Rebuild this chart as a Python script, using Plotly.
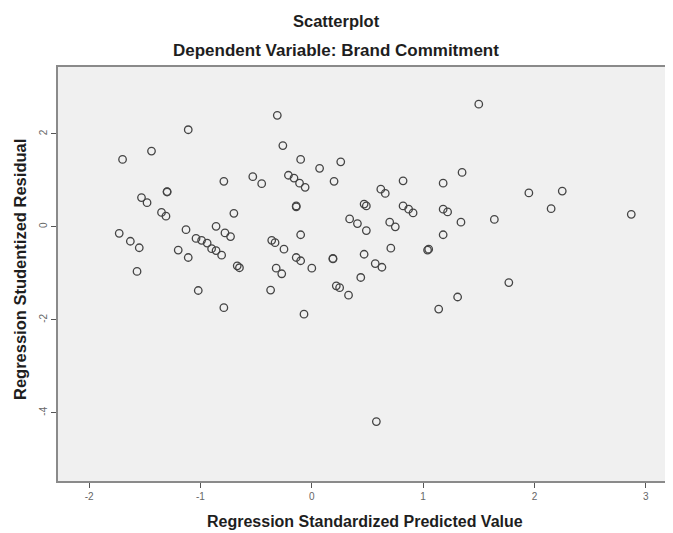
import plotly.graph_objects as go

# Regression Standardized Predicted Value
pred = [-1.11, -1.44, -1.70, -0.79, -0.53, -0.45, -1.30, -1.30, -1.53, -1.48,
        -0.70, -1.35, -1.31, -0.86, -0.78, -0.73, -1.73, -1.63, -1.55, -1.13,
        -1.04, -0.99, -0.94, -0.90, -0.86, -0.81, -1.20, -1.11, -0.67, -0.65,
        -1.57, -1.02, -0.79, -0.31, -0.26, -0.10, 0.07, 0.26, -0.21, -0.16,
        -0.11, -0.06, 0.20, -0.14, -0.14, 0.62, 0.66, 0.82, 1.18, 1.35,
        0.47, 0.49, 0.82, 0.87, 0.91, 1.18, 1.22, 1.34, 0.34, 0.41,
        0.49, 0.70, 0.75, -0.10, -0.36, -0.33, -0.25, 1.18, 0.71, 1.05,
        1.04, 0.19, 0.19, 0.47, -0.14, -0.10, 0.00, 0.57, 0.63, -0.32,
        -0.27, -0.37, -0.07, 0.22, 0.25, 0.33, 0.44, 0.58, 1.14, 1.31,
        1.50, 1.95, 2.25, 2.15, 1.64, 2.87, 1.77]

# Regression Studentized Residual
resid = [2.09, 1.63, 1.45, 0.98, 1.08, 0.93, 0.76, 0.75, 0.63, 0.52,
         0.29, 0.31, 0.23, 0.01, -0.13, -0.21, -0.14, -0.31, -0.45, -0.06,
         -0.25, -0.29, -0.35, -0.47, -0.51, -0.61, -0.50, -0.66, -0.84, -0.88,
         -0.96, -1.37, -1.74, 2.40, 1.75, 1.45, 1.26, 1.40, 1.11, 1.05,
         0.94, 0.85, 0.98, 0.43, 0.45, 0.81, 0.72, 0.99, 0.94, 1.17,
         0.49, 0.45, 0.45, 0.38, 0.30, 0.38, 0.32, 0.10, 0.17, 0.07,
         -0.08, 0.10, 0.00, -0.17, -0.29, -0.34, -0.48, -0.17, -0.46, -0.48,
         -0.50, -0.68, -0.69, -0.59, -0.66, -0.73, -0.89, -0.79, -0.87, -0.89,
         -1.01, -1.36, -1.88, -1.27, -1.31, -1.47, -1.09, -4.19, -1.77, -1.51,
         2.64, 0.73, 0.77, 0.39, 0.16, 0.27, -1.20]

x_ticks = [-2, -1, 0, 1, 2, 3]
y_ticks = [2, 0, -2, -4]

title_text = "Scatterplot"
subtitle_text = "Dependent Variable: Brand Commitment"
x_title = "Regression Standardized Predicted Value"
y_title = "Regression Studentized Residual"

FONT = "Liberation Sans, Arial, sans-serif"
OFF = 8  # the page body has an 8px margin; compensate so page pixels match
PAGE_W, PAGE_H = 673, 533
W, H = PAGE_W - OFF, PAGE_H - OFF
# plot area in page pixels: x 58..668, y 67..481
L, T = 58 - OFF, 67 - OFF
R = W - (668 - OFF)
B = H - (481 - OFF)
PW, PH = W - L - R, H - T - B


def px_x(page_px):
    return (page_px - OFF - L) / PW


def px_y(page_py):
    return (H - B - (page_py - OFF)) / PH


fig = go.Figure()
fig.add_trace(go.Scatter(
    x=pred, y=resid, mode="markers",
    marker=dict(symbol="circle-open", size=7.5, color="#444",
                line=dict(width=1.3, color="#444")),
    showlegend=False, hoverinfo="x+y"))

fig.update_layout(
    width=W, height=H,
    margin=dict(l=L, r=R, t=T, b=B, autoexpand=False),
    paper_bgcolor="white",
    plot_bgcolor="#f0f0f0",
    font=dict(family=FONT, color="#222"),
)

txt_font = dict(family=FONT, color="#1e1e1e")
fig.add_annotation(text="<b>%s</b>" % title_text, xref="paper", yref="paper",
                   x=px_x(336), y=px_y(21), showarrow=False,
                   xanchor="center", yanchor="middle",
                   font=dict(size=16.5, **txt_font))
fig.add_annotation(text="<b>%s</b>" % subtitle_text, xref="paper", yref="paper",
                   x=px_x(336), y=px_y(50), showarrow=False,
                   xanchor="center", yanchor="middle",
                   font=dict(size=17, **txt_font))
fig.add_annotation(text="<b>%s</b>" % x_title, xref="paper", yref="paper",
                   x=px_x(365), y=px_y(521), showarrow=False,
                   xanchor="center", yanchor="middle",
                   font=dict(size=16, **txt_font))
fig.add_annotation(text="<b>%s</b>" % y_title, xref="paper", yref="paper",
                   x=px_x(20), y=px_y(270), showarrow=False, textangle=-90,
                   xanchor="center", yanchor="middle",
                   font=dict(size=16.5, **txt_font))

fig.update_xaxes(
    range=[-2.28, 3.20], tickvals=x_ticks, ticktext=[str(v) for v in x_ticks],
    showgrid=False, zeroline=False, automargin=False,
    showline=True, mirror=True, linecolor="#8a8a8a", linewidth=2,
    ticks="outside", ticklen=5, tickcolor="#555",
    tickfont=dict(size=10, color="#666", family=FONT),
)
fig.update_yaxes(
    range=[-5.47, 3.44], tickvals=y_ticks, ticktext=[str(v) for v in y_ticks],
    showgrid=False, zeroline=False, automargin=False,
    showline=True, mirror=True, linecolor="#8a8a8a", linewidth=2,
    ticks="outside", ticklen=5, tickcolor="#555", tickangle=-90,
    tickfont=dict(size=10, color="#666", family=FONT),
)

fig.write_html("out.html")
